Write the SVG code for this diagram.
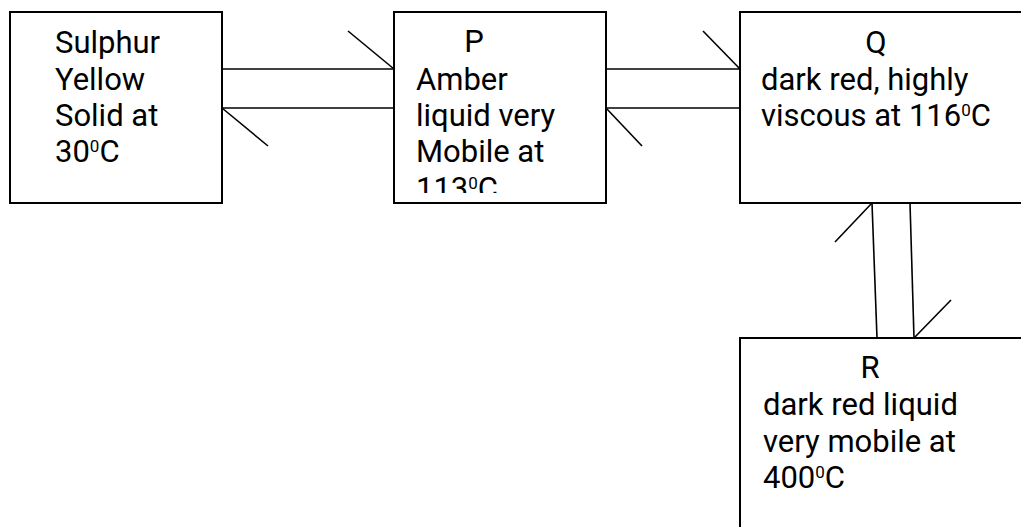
<svg xmlns="http://www.w3.org/2000/svg" width="1021" height="527" viewBox="0 0 1021 527">
<style>
.box{fill:#fff;stroke:#000;stroke-width:2}
.ln{stroke:#000;stroke-width:1.6;fill:none}
text{font-family:Roboto,"Liberation Sans",sans-serif;font-size:31px;fill:#000}
.sup{font-size:17px}
</style>
<defs>
<clipPath id="clipP"><rect x="394" y="12" width="212" height="181"/></clipPath>
</defs>
<rect width="1021" height="527" fill="#fff"/>
<g id="connectors">
<line class="ln" x1="222" y1="69" x2="394" y2="69"/>
<line class="ln" x1="348" y1="31" x2="394" y2="69"/>
<line class="ln" x1="222" y1="108" x2="394" y2="108"/>
<line class="ln" x1="222" y1="108" x2="268" y2="146"/>
<line class="ln" x1="606" y1="69" x2="740" y2="69"/>
<line class="ln" x1="703" y1="31" x2="740" y2="69"/>
<line class="ln" x1="606" y1="108" x2="740" y2="108"/>
<line class="ln" x1="606" y1="108" x2="642" y2="146"/>
<line class="ln" x1="872" y1="203" x2="877" y2="338"/>
<line class="ln" x1="872" y1="203" x2="835" y2="242"/>
<line class="ln" x1="910" y1="203" x2="914" y2="338"/>
<line class="ln" x1="914" y1="338" x2="951" y2="300"/>
</g>
<g id="sulphur">
<rect class="box" x="10" y="12" width="212" height="191"/>
<text x="55" y="53">Sulphur</text>
<text x="55" y="90">Yellow</text>
<text x="55" y="126">Solid at</text>
<text x="55" y="162">30<tspan class="sup" dy="-10">0</tspan><tspan dy="10">C</tspan></text>
</g>
<g id="P">
<rect class="box" x="394" y="12" width="212" height="191"/>
<g clip-path="url(#clipP)">
<text x="474" y="52" text-anchor="middle">P</text>
<text x="416" y="90">Amber</text>
<text x="416" y="126">liquid very</text>
<text x="416" y="162">Mobile at</text>
<text x="416" y="199">113<tspan class="sup" dy="-10">0</tspan><tspan dy="10">C</tspan></text>
</g>
</g>
<g id="Q">
<rect class="box" x="740" y="12" width="300" height="191"/>
<text x="876" y="53" text-anchor="middle">Q</text>
<text x="761" y="90">dark red, highly</text>
<text x="761" y="126">viscous at 116<tspan class="sup" dy="-10">0</tspan><tspan dy="10">C</tspan></text>
</g>
<g id="R">
<rect class="box" x="740" y="338" width="300" height="220"/>
<text x="870" y="378" text-anchor="middle">R</text>
<text x="763" y="415">dark red liquid</text>
<text x="763" y="452">very mobile at</text>
<text x="763" y="488">400<tspan class="sup" dy="-10">0</tspan><tspan dy="10">C</tspan></text>
</g>
</svg>
